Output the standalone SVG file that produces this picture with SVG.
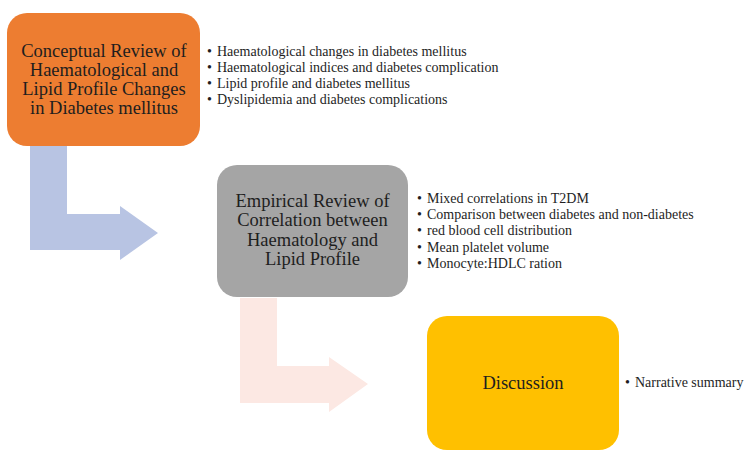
<svg xmlns="http://www.w3.org/2000/svg" width="750" height="460" viewBox="0 0 750 460">
<style>
.title{font-family:"Liberation Serif","Times New Roman",serif;font-size:18.5px;fill:#1e1e1e;text-anchor:middle}
.item{font-family:"Liberation Serif","Times New Roman",serif;font-size:14px;fill:#1e1e1e}
</style>
<rect width="750" height="460" fill="#ffffff"/>
<g id="connectors">
<polygon points="30,146 67,146 67,214 120,214 120,206 158,233 120,260 120,250 30,250" fill="#b8c4e3"/>
<polygon points="240,298 277,298 277,366 329,366 329,357 368,384 329,412 329,403 240,403" fill="#fce8e3"/>
</g>
<g id="node-conceptual">
<rect x="7" y="13" width="193" height="133" rx="20" fill="#ed7d31"/>
<text class="title"><tspan x="104" y="57">Conceptual Review of</tspan><tspan x="104" y="76">Haematological and</tspan><tspan x="104" y="95">Lipid Profile Changes</tspan><tspan x="104" y="113.5">in Diabetes mellitus</tspan></text>
<text class="item"><tspan x="207" y="56">•</tspan><tspan x="217" y="56">Haematological changes in diabetes mellitus</tspan><tspan x="207" y="72">•</tspan><tspan x="217" y="72">Haematological indices and diabetes complication</tspan><tspan x="207" y="88">•</tspan><tspan x="217" y="88">Lipid profile and diabetes mellitus</tspan><tspan x="207" y="104">•</tspan><tspan x="217" y="104">Dyslipidemia and diabetes complications</tspan></text>
</g>
<g id="node-empirical">
<rect x="217" y="165" width="191" height="132" rx="20" fill="#a5a5a5"/>
<text class="title"><tspan x="312.5" y="207">Empirical Review of</tspan><tspan x="312.5" y="226">Correlation between</tspan><tspan x="312.5" y="245.5">Haematology and</tspan><tspan x="312.5" y="265">Lipid Profile</tspan></text>
<text class="item"><tspan x="417" y="203">•</tspan><tspan x="427" y="203">Mixed correlations in T2DM</tspan><tspan x="417" y="219">•</tspan><tspan x="427" y="219">Comparison between diabetes and non-diabetes</tspan><tspan x="417" y="235">•</tspan><tspan x="427" y="235">red blood cell distribution</tspan><tspan x="417" y="251.5">•</tspan><tspan x="427" y="251.5">Mean platelet volume</tspan><tspan x="417" y="268">•</tspan><tspan x="427" y="268">Monocyte:HDLC ration</tspan></text>
</g>
<g id="node-discussion">
<rect x="427" y="316" width="192" height="134" rx="20" fill="#ffc000"/>
<text class="title" x="523" y="389">Discussion</text>
<text class="item"><tspan x="625" y="387">•</tspan><tspan x="635" y="387">Narrative summary</tspan></text>
</g>
</svg>
